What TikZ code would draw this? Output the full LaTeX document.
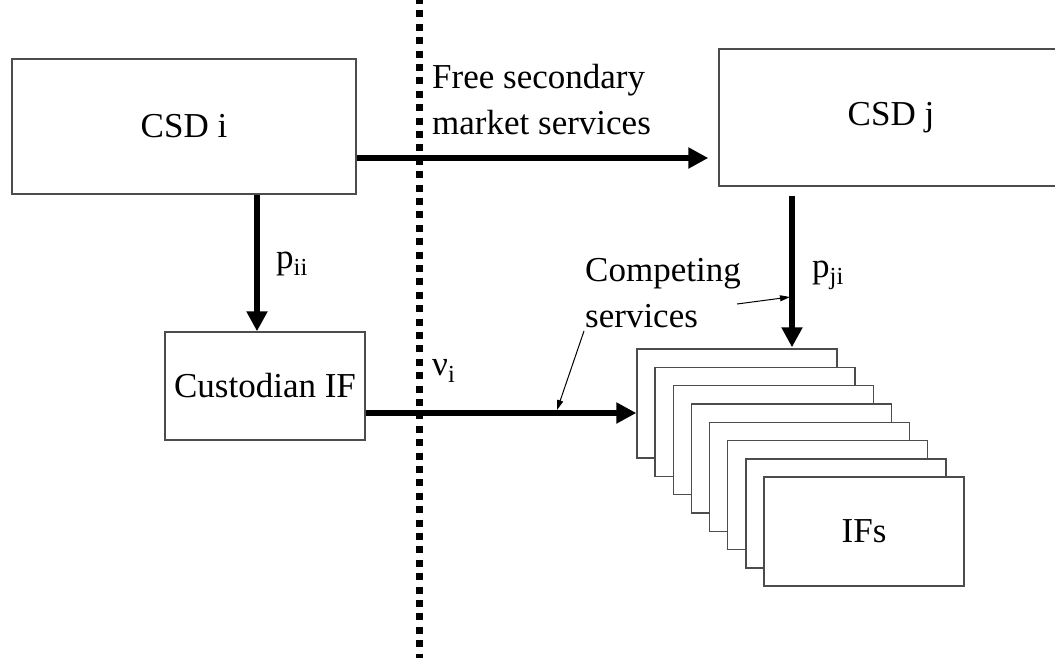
\documentclass[tikz,border=0pt]{standalone}
\usepackage{fontspec}
\setmainfont{Liberation Serif}
\usetikzlibrary{arrows.meta,calc}
\begin{document}
\begin{tikzpicture}[x=1pt,y=-1pt,
  font=\fontsize{35}{46}\selectfont,
  cbox/.style={draw=black!70,line width=1.4pt,fill=white,inner sep=0pt},
  bigarrow/.style={line width=5.5pt,-{Triangle[length=20pt,width=20pt]}},
  thinarrow/.style={line width=1pt,-{Triangle[length=10pt,width=6pt]}},
  lbl/.style={inner sep=0pt},
  dotline/.style={line width=7pt,dash pattern=on 7pt off 6.4pt}]
\useasboundingbox (0,0) rectangle (1055,657);
\clip (0,0) rectangle (1055,657);
% boxes
\node[cbox,minimum width=344pt,minimum height=135pt] (csdi) at (184,126.5) {CSD i};
\node[cbox,minimum width=344pt,minimum height=137pt] (csdj) at (891,117.5) {CSD j};
\node[cbox,minimum width=200pt,minimum height=108pt] (cust) at (265,386) {Custodian IF};
\foreach \k in {0,...,6}
  \node[cbox,minimum width=200pt,minimum height=109pt] (if\k) at (737+18.15*\k,403.5+18.3*\k) {};
\node[cbox,minimum width=200pt,minimum height=109pt] (if7) at (737+18.15*7,403.5+18.3*7) {IFs};
% dotted separator
\coordinate (dtop) at (419,-3);
\coordinate (dbot) at (419,662);
\draw[dotline] (dtop) -- (dbot);
% thick arrows
\coordinate (a1s) at ($(csdi.east)+(0,31.5)$);
\draw[bigarrow,shorten >=10pt] (a1s) -- (a1s -| csdj.west);
\coordinate (a2s) at ($(csdi.south)+(73,0)$);
\draw[bigarrow] (a2s) -- (a2s |- cust.north);
\coordinate (a3s) at ($(cust.east)+(0,27)$);
\draw[bigarrow] (a3s) -- (a3s -| if0.west);
\coordinate (a4s) at ($(csdj.south)+(-99,0)$);
\draw[bigarrow,shorten <=9pt,shorten >=1pt] (a4s) -- (a4s |- if0.north);
% labels
\node[lbl,anchor=west,align=left] (free) at (432,99.5) {Free secondary\\market services};
\node[lbl,anchor=base west] (pii) at (276,268) {p\textsubscript{ii}};
\node[lbl,anchor=base west] (pji) at (812,277) {p\textsubscript{ji}};
\node[lbl,anchor=base west] (nui) at (432,375) {ν\textsubscript{i}};
\node[lbl,anchor=west,align=left] (comp) at (585,293.5) {Competing\\services};
% thin pointer arrows
\coordinate (t1s) at (737,304);
\coordinate (t1e) at (790,297);
\draw[thinarrow] (t1s) -- (t1e);
\coordinate (t2s) at (584,331);
\coordinate (t2e) at (557,410);
\draw[thinarrow] (t2s) -- (t2e);
\end{tikzpicture}
\end{document}
